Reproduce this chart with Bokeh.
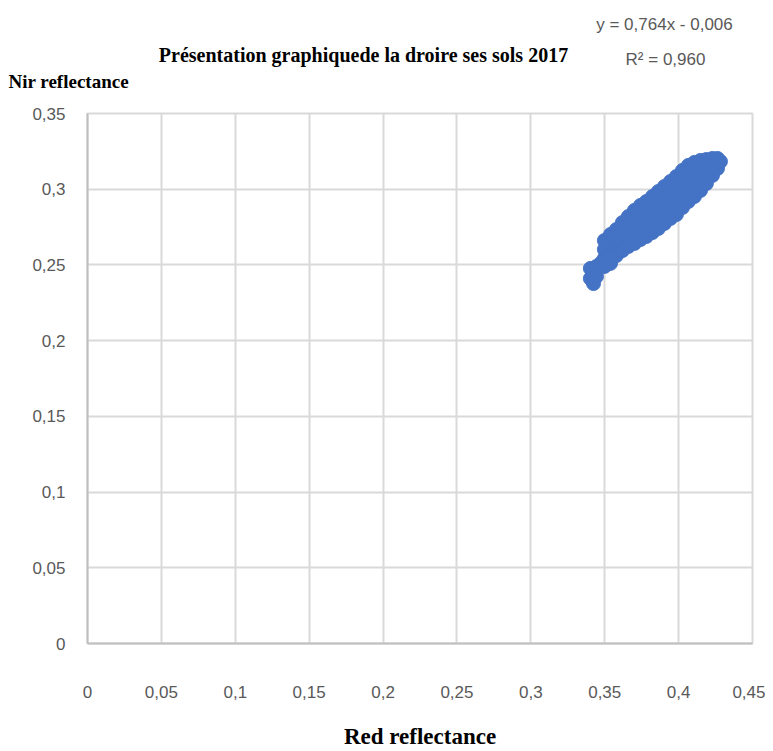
from bokeh.plotting import figure
from bokeh.models import Range1d, FixedTicker, ColumnDataSource
from bokeh.layouts import column
from bokeh.core.properties import value
from bokeh.embed import file_html
from bokeh.resources import INLINE

# ---- data ----
red = [0.3498, 0.3498, 0.3498, 0.3498,
       0.3539, 0.3539, 0.3539, 0.3539,
       0.3579, 0.3579, 0.3579, 0.3579,
       0.3620, 0.3620, 0.3620, 0.3620,
       0.3660, 0.3660, 0.3660, 0.3660,
       0.3701, 0.3701, 0.3701, 0.3701,
       0.3742, 0.3742, 0.3742, 0.3742,
       0.3782, 0.3782, 0.3782, 0.3782,
       0.3823, 0.3823, 0.3823, 0.3823,
       0.3863, 0.3863, 0.3863, 0.3863,
       0.3904, 0.3904, 0.3904, 0.3904,
       0.3945, 0.3945, 0.3945, 0.3945,
       0.3985, 0.3985, 0.3985, 0.3985,
       0.4026, 0.4026, 0.4026, 0.4026,
       0.4066, 0.4066, 0.4066, 0.4066,
       0.4107, 0.4107, 0.4107, 0.4107,
       0.4148, 0.4148, 0.4148, 0.4148,
       0.4188, 0.4188, 0.4188, 0.4188,
       0.4229, 0.4229, 0.4229,
       0.4263, 0.4263,
       0.4283,
       0.3403, 0.3403, 0.3444, 0.3444, 0.3424, 0.3478]
nir = [0.2661, 0.2602, 0.2543, 0.2490,
       0.2701, 0.2635, 0.2569, 0.2510,
       0.2734, 0.2675, 0.2615, 0.2562,
       0.2780, 0.2721, 0.2655, 0.2595,
       0.2820, 0.2754, 0.2688, 0.2622,
       0.2860, 0.2787, 0.2714, 0.2642,
       0.2893, 0.2820, 0.2741, 0.2668,
       0.2919, 0.2840, 0.2767, 0.2688,
       0.2952, 0.2873, 0.2793, 0.2714,
       0.2985, 0.2906, 0.2820, 0.2741,
       0.3018, 0.2939, 0.2853, 0.2774,
       0.3051, 0.2972, 0.2886, 0.2807,
       0.3084, 0.2998, 0.2919, 0.2833,
       0.3124, 0.3044, 0.2959, 0.2879,
       0.3157, 0.3077, 0.2998, 0.2919,
       0.3177, 0.3104, 0.3025, 0.2952,
       0.3190, 0.3124, 0.3058, 0.2992,
       0.3196, 0.3144, 0.3091, 0.3038,
       0.3203, 0.3150, 0.3091,
       0.3203, 0.3137,
       0.3183,
       0.2477, 0.2410, 0.2490, 0.2424, 0.2377, 0.2516]

x_ticks = [0, 0.05, 0.1, 0.15, 0.2, 0.25, 0.3, 0.35, 0.4, 0.45]
x_tick_labels = ["0", "0,05", "0,1", "0,15", "0,2", "0,25", "0,3", "0,35", "0,4", "0,45"]
y_ticks = [0, 0.05, 0.1, 0.15, 0.2, 0.25, 0.3, 0.35]
y_tick_labels = ["0", "0,05", "0,1", "0,15", "0,2", "0,25", "0,3", "0,35"]

title_text = "Présentation graphiquede la droire ses sols 2017"
equation_text = "y = 0,764x - 0,006"
r2_text = "R² = 0,960"
x_label = "Red reflectance"
y_label = "Nir reflectance"

# ---- layout ----
W = 765
HH = 100           # header (title / equation) height
H = 651            # main chart height
FL, FR, FT, FB = 87, 13, 13, 108

SANS = "Liberation Sans"
SERIF = "Liberation Serif"
GRAY = "#595959"
BLUE = "#4472C4"

# header: texts above the plot area, positioned in pixels
hdr = figure(width=W, height=HH, output_backend="svg", toolbar_location=None,
             x_range=Range1d(0, W), y_range=Range1d(HH, 0),
             x_axis_location=None, y_axis_location=None,
             min_border=0, frame_align=False)
hdr.outline_line_color = None
hdr.grid.visible = False
hdr.background_fill_color = "white"
hdr.border_fill_color = "white"

hdr.text(x=[363], y=[54], text=[title_text], text_font=value(SERIF),
         text_font_style="bold", text_font_size="20px", text_color="black",
         text_align="center", text_baseline="middle")
hdr.text(x=[664], y=[24], text=[equation_text], text_font=value(SANS),
         text_font_size="17px", text_color=GRAY,
         text_align="center", text_baseline="middle")
hdr.text(x=[665], y=[59], text=[r2_text], text_font=value(SANS),
         text_font_size="17px", text_color=GRAY,
         text_align="center", text_baseline="middle")
hdr.text(x=[8], y=[81], text=[y_label], text_font=value(SERIF),
         text_font_style="bold", text_font_size="19px", text_color="black",
         text_align="left", text_baseline="middle")

p = figure(width=W, height=H, output_backend="svg", toolbar_location=None,
           x_range=Range1d(0, 0.45), y_range=Range1d(0, 0.35),
           min_border_left=FL, min_border_right=FR,
           min_border_top=FT, min_border_bottom=FB, frame_align=False)
p.background_fill_color = "white"
p.border_fill_color = "white"
p.outline_line_color = "#d9d9d9"
p.outline_line_width = 2

src = ColumnDataSource(dict(red=red, nir=nir))
p.scatter("red", "nir", source=src, size=14, marker="circle",
          fill_color=BLUE, line_color=BLUE, line_width=1)

for ax, ticks, labels in ((p.xaxis[0], x_ticks, x_tick_labels), (p.yaxis[0], y_ticks, y_tick_labels)):
    ax.ticker = FixedTicker(ticks=ticks)
    ax.major_label_overrides = {t: l for t, l in zip(ticks, labels)}
    ax.major_tick_in = 0
    ax.major_tick_out = 0
    ax.minor_tick_in = 0
    ax.minor_tick_out = 0
    ax.axis_line_color = "#bfbfbf"
    ax.axis_line_width = 2
    ax.major_label_text_font = SANS
    ax.major_label_text_font_size = "17px"
    ax.major_label_text_color = GRAY

p.xaxis[0].major_label_standoff = 42
p.yaxis[0].major_label_standoff = 22
p.xaxis[0].axis_label = x_label
p.xaxis[0].axis_label_text_font = SERIF
p.xaxis[0].axis_label_text_font_style = "bold"
p.xaxis[0].axis_label_text_font_size = "23px"
p.xaxis[0].axis_label_text_color = "black"
p.xaxis[0].axis_label_standoff = 23

p.xgrid[0].ticker = FixedTicker(ticks=x_ticks)
p.ygrid[0].ticker = FixedTicker(ticks=y_ticks)
p.xgrid.grid_line_color = "#d9d9d9"
p.ygrid.grid_line_color = "#d9d9d9"
p.xgrid.grid_line_width = 2
p.ygrid.grid_line_width = 2

layout = column(hdr, p, spacing=0)
open("out.html", "w").write(file_html(layout, INLINE))
